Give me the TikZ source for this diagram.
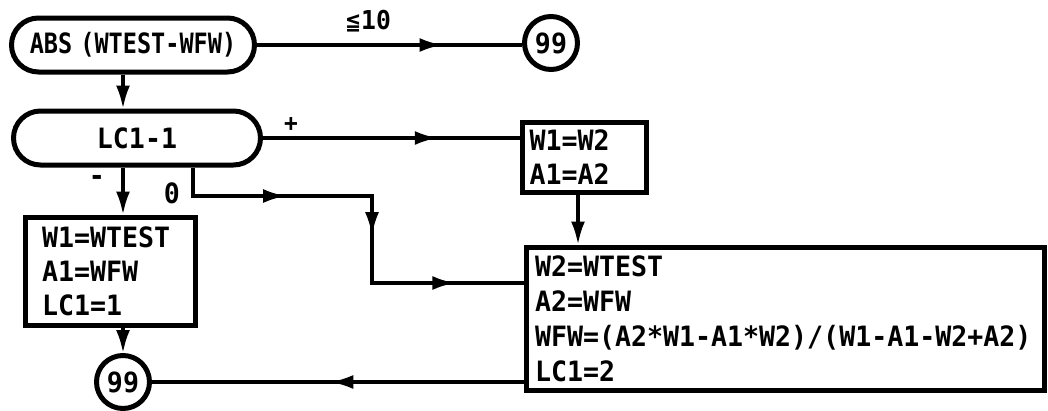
\documentclass[tikz,border=0pt]{standalone}
\usepackage{fontspec}
\setmainfont{DejaVu Sans Mono}[FakeStretch=0.95]
\newfontfamily\absfont{DejaVu Sans Mono}[FakeStretch=0.84]
\newfontfamily\symfont{DejaVu Sans}[FakeStretch=0.8]
\usetikzlibrary{arrows.meta,decorations.markings}
\tikzset{
  conn/.style={draw, line width=3.2pt},
  tipend/.style={-{Latex[length=23pt,width=14pt]}},
  midarrow/.style={postaction={decorate,decoration={markings,
      mark=at position #1 with {\arrow{Latex[length=23pt,width=14pt]}}}}},
  pill/.style={draw, line width=5pt, rounded corners=27pt, inner sep=0pt},
  boxnode/.style={draw, line width=5pt, rectangle, align=left, inner ysep=4pt},
  circnode/.style={draw, line width=5pt, circle, minimum size=53pt, inner sep=0pt},
  lbl/.style={inner sep=0pt},
}
\begin{document}
\begin{tikzpicture}[x=1pt,y=-1pt,font=\fontsize{28}{34}\selectfont\bfseries]
\useasboundingbox (0,0) rectangle (1048,410);
% nodes
\node[pill, minimum width=243pt, minimum height=54pt,
  font=\absfont\fontsize{28}{30}\selectfont\bfseries] (abs) at (133,45) {ABS\hspace{-6pt} (WTEST-WFW)};
\node[circnode] (c1) at (551,43) {99};
\node[pill, minimum width=247pt, minimum height=54pt] (lc) at (137,138) {LC1-1};
\node[boxnode, minimum width=124pt, minimum height=70pt, inner xsep=5pt, text width=110pt] (b12) at (584.5,157.5) {W1=W2\\A1=A2};
\node[boxnode, minimum width=170pt, minimum height=108pt, inner xsep=17pt, text width=136pt] (w1) at (110,271) {W1=WTEST\\A1=WFW\\LC1=1};
\node[boxnode, minimum width=518pt, minimum height=143pt, inner xsep=7pt, text width=500pt,
  font=\fontsize{28}{35}\selectfont\bfseries] (w2) at (785,318.5)
  {W2=WTEST\\A2=WFW\\WFW=(A2*W1-A1*W2)/(W1-A1-W2+A2)\\LC1=2};
\node[circnode] (c2) at (123,382) {99};
% labels
\node[lbl, font=\fontsize{26}{26}\selectfont\bfseries] (le) at (368,21) {{\symfont\fontsize{24}{24}\selectfont ≦}10};
\node[lbl, font=\fontsize{24}{24}\selectfont\bfseries] (plus) at (291,125) {+};
\node[lbl] (minus) at (97,180) {-};
\node[lbl] (zero) at (172,193) {0};
% coordinates for the 0 branch
\coordinate (z1) at (193,196);
\coordinate (z2) at (372,196);
\coordinate (z3) at (372,283);
% connectors
\draw[conn, midarrow=0.7] (abs.east) -- (abs.east -| c1.west);
\draw[conn, tipend] (abs.south -| c2) -- (lc.north -| c2);
\draw[conn, midarrow=0.68] (lc.east) -- (lc.east -| b12.west);
\draw[conn, tipend] (lc.south -| c2) -- (w1.north -| c2);
\draw[conn, tipend] (w1.south -| c2) -- (c2.north);
\draw[conn, tipend] (b12.south -| 578,0) -- (w2.north -| 578,0);
\draw[conn] (lc.south -| z1) -- (z1) -- (z2) -- (z3) -- (z3 -| w2.west);
\draw[conn, midarrow=0.52] (z1) -- (z2);
\draw[conn, midarrow=0.45] (z2) -- (z3);
\draw[conn, midarrow=0.55] (z3) -- (z3 -| w2.west);
\draw[conn, midarrow=0.52] (w2.west |- c2) -- (c2.east);
\end{tikzpicture}
\end{document}
